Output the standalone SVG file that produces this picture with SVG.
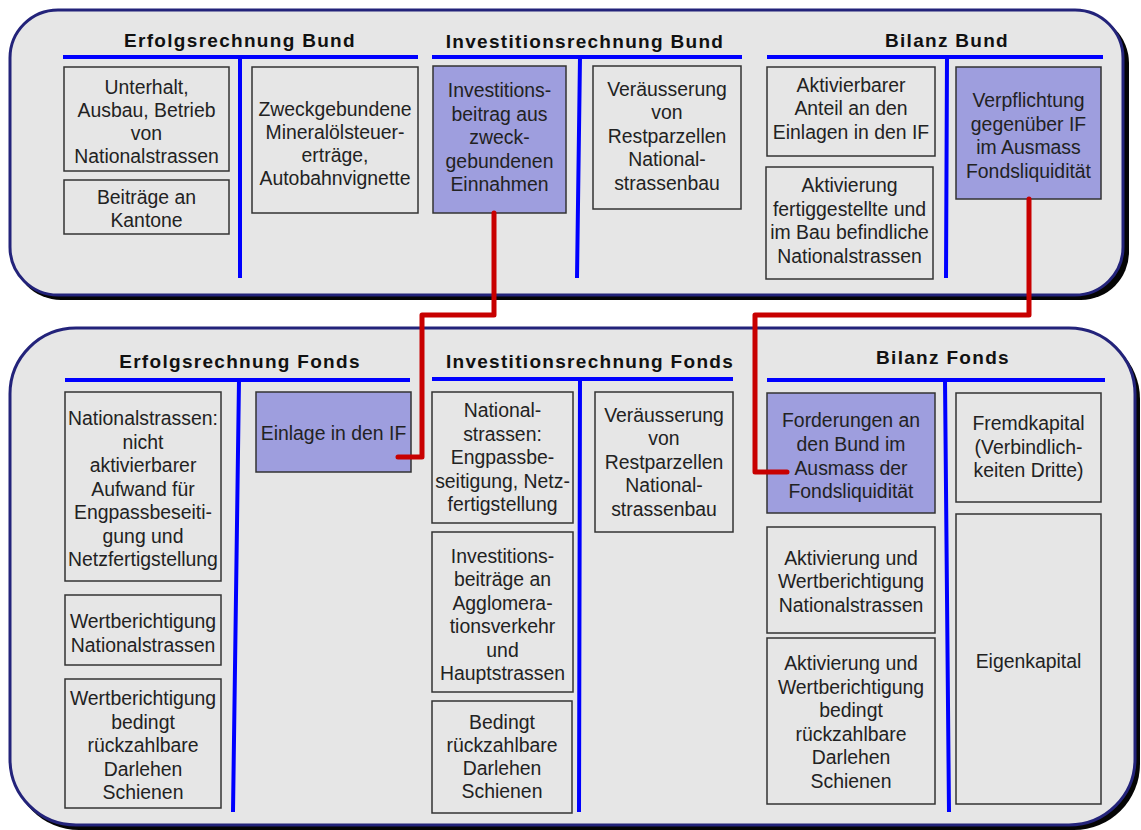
<svg xmlns="http://www.w3.org/2000/svg" width="1141" height="830" viewBox="0 0 1141 830">
<style>
.shadow{fill:#050505}
.panel{fill:#e6e6e6;stroke:#23237a;stroke-width:3}
.box{fill:none;stroke:#333;stroke-width:1.5}
.hl{fill:#9e9ede;stroke:#333;stroke-width:1.5}
.t{font-family:"Liberation Sans",Arial,sans-serif;font-size:19.4px;fill:#222;text-anchor:middle}
.h{font-family:"Liberation Sans",Arial,sans-serif;font-size:19px;font-weight:bold;fill:#111;text-anchor:middle;letter-spacing:1.3px}
.bl{stroke:#0000ff;stroke-width:4;fill:none}
.red{stroke:#c80000;stroke-width:5;fill:none;stroke-linecap:round;stroke-linejoin:round}
</style>
<rect id="shadow-bund" class="shadow" x="13" y="15" width="1116" height="285" rx="48"/>
<rect id="panel-bund" class="panel" x="10" y="10" width="1113" height="285" rx="48"/>
<rect id="shadow-fonds" class="shadow" x="13" y="333" width="1127" height="497" rx="66"/>
<rect id="panel-fonds" class="panel" x="10" y="328" width="1125" height="497" rx="66"/>

<g id="headers">
<text class="h" x="240" y="47">Erfolgsrechnung Bund</text>
<text class="h" x="585" y="48">Investitionsrechnung Bund</text>
<text class="h" x="947" y="47">Bilanz Bund</text>
<text class="h" x="240" y="368">Erfolgsrechnung Fonds</text>
<text class="h" x="590" y="368">Investitionsrechnung Fonds</text>
<text class="h" x="943" y="364">Bilanz Fonds</text>
</g>

<g id="tlines">
<path class="bl" d="M63,57 H418 M240,57 V278"/>
<path class="bl" d="M432,57 H742 M580,57 L577,278"/>
<path class="bl" d="M767,57 H1103 M947,57 L946,278"/>
<path class="bl" d="M65,380 H410 M239,380 L233,812"/>
<path class="bl" d="M432,379 H733 M580,379 L579,812"/>
<path class="bl" d="M767,380 H1105 M945,380 L949,812"/>
</g>

<g id="n-unterhalt"><rect class="box" x="64" y="67" width="165" height="104"/>
<text class="t" x="146.5" y="94">Unterhalt,</text><text class="t" x="146.5" y="117">Ausbau, Betrieb</text><text class="t" x="146.5" y="140">von</text><text class="t" x="146.5" y="163">Nationalstrassen</text></g>
<g id="n-beitraege"><rect class="box" x="64" y="180" width="165" height="54"/>
<text class="t" x="146.5" y="204">Beiträge an</text><text class="t" x="146.5" y="227">Kantone</text></g>
<g id="n-zweck"><rect class="box" x="252" y="67" width="166" height="146"/>
<text class="t" x="335" y="116">Zweckgebundene</text><text class="t" x="335" y="139">Mineralölsteuer-</text><text class="t" x="335" y="162">erträge,</text><text class="t" x="335" y="185">Autobahnvignette</text></g>
<g id="n-invbeitrag"><rect class="hl" x="433" y="66" width="133" height="147"/>
<text class="t" x="499.5" y="97">Investitions-</text><text class="t" x="499.5" y="121">beitrag aus</text><text class="t" x="499.5" y="144">zweck-</text><text class="t" x="499.5" y="168">gebundenen</text><text class="t" x="499.5" y="191">Einnahmen</text></g>
<g id="n-veraeusserung-bund"><rect class="box" x="593" y="66" width="148" height="143"/>
<text class="t" x="667" y="96">Veräusserung</text><text class="t" x="667" y="119">von</text><text class="t" x="667" y="143">Restparzellen</text><text class="t" x="667" y="166">National-</text><text class="t" x="667" y="190">strassenbau</text></g>
<g id="n-aktivierbar"><rect class="box" x="767" y="67" width="168" height="89"/>
<text class="t" x="851" y="92">Aktivierbarer</text><text class="t" x="851" y="115">Anteil an den</text><text class="t" x="851" y="139">Einlagen in den IF</text></g>
<g id="n-aktivierung-bund"><rect class="box" x="766" y="167" width="167" height="112"/>
<text class="t" x="849.5" y="192">Aktivierung</text><text class="t" x="849.5" y="216">fertiggestellte und</text><text class="t" x="849.5" y="239">im Bau befindliche</text><text class="t" x="849.5" y="263">Nationalstrassen</text></g>
<g id="n-verpflichtung"><rect class="hl" x="956" y="67" width="145" height="132"/>
<text class="t" x="1028.5" y="107">Verpflichtung</text><text class="t" x="1028.5" y="131">gegenüber IF</text><text class="t" x="1028.5" y="154">im Ausmass</text><text class="t" x="1028.5" y="178">Fondsliquidität</text></g>

<g id="n-ns-aufwand"><rect class="box" x="65" y="392" width="156" height="189"/>
<text class="t" x="143" y="425">Nationalstrassen:</text><text class="t" x="143" y="448.5">nicht</text><text class="t" x="143" y="472">aktivierbarer</text><text class="t" x="143" y="495.5">Aufwand für</text><text class="t" x="143" y="519">Engpassbeseiti-</text><text class="t" x="143" y="542.5">gung und</text><text class="t" x="143" y="566">Netzfertigstellung</text></g>
<g id="n-wb-ns"><rect class="box" x="65" y="595" width="156" height="70"/>
<text class="t" x="143" y="628">Wertberichtigung</text><text class="t" x="143" y="652">Nationalstrassen</text></g>
<g id="n-wb-darlehen"><rect class="box" x="65" y="679" width="156" height="129"/>
<text class="t" x="143" y="705">Wertberichtigung</text><text class="t" x="143" y="728.5">bedingt</text><text class="t" x="143" y="752">rückzahlbare</text><text class="t" x="143" y="775.5">Darlehen</text><text class="t" x="143" y="799">Schienen</text></g>
<g id="n-einlage"><rect class="hl" x="256" y="392" width="155" height="80"/>
<text class="t" x="333.5" y="440">Einlage in den IF</text></g>
<g id="n-ns-engpass"><rect class="box" x="432" y="392" width="141" height="131"/>
<text class="t" x="502.5" y="417">National-</text><text class="t" x="502.5" y="440.5">strassen:</text><text class="t" x="502.5" y="464">Engpassbe-</text><text class="t" x="502.5" y="487.5">seitigung, Netz-</text><text class="t" x="502.5" y="511">fertigstellung</text></g>
<g id="n-agglo"><rect class="box" x="432" y="532" width="141" height="160"/>
<text class="t" x="502.5" y="562.5">Investitions-</text><text class="t" x="502.5" y="586">beiträge an</text><text class="t" x="502.5" y="609.5">Agglomera-</text><text class="t" x="502.5" y="633">tionsverkehr</text><text class="t" x="502.5" y="656.5">und</text><text class="t" x="502.5" y="680">Hauptstrassen</text></g>
<g id="n-darlehen"><rect class="box" x="432" y="701" width="140" height="112"/>
<text class="t" x="502" y="729">Bedingt</text><text class="t" x="502" y="752">rückzahlbare</text><text class="t" x="502" y="775">Darlehen</text><text class="t" x="502" y="798">Schienen</text></g>
<g id="n-veraeusserung-fonds"><rect class="box" x="595" y="392" width="138" height="140"/>
<text class="t" x="664" y="421.5">Veräusserung</text><text class="t" x="664" y="445">von</text><text class="t" x="664" y="468.5">Restparzellen</text><text class="t" x="664" y="492">National-</text><text class="t" x="664" y="515.5">strassenbau</text></g>
<g id="n-forderungen"><rect class="hl" x="767" y="393" width="168" height="120"/>
<text class="t" x="851" y="427">Forderungen an</text><text class="t" x="851" y="451">den Bund im</text><text class="t" x="851" y="475">Ausmass der</text><text class="t" x="851" y="498">Fondsliquidität</text></g>
<g id="n-akt-ns"><rect class="box" x="767" y="527" width="168" height="106"/>
<text class="t" x="851" y="565">Aktivierung und</text><text class="t" x="851" y="588">Wertberichtigung</text><text class="t" x="851" y="612">Nationalstrassen</text></g>
<g id="n-akt-darlehen"><rect class="box" x="767" y="638" width="168" height="166"/>
<text class="t" x="851" y="670">Aktivierung und</text><text class="t" x="851" y="693.5">Wertberichtigung</text><text class="t" x="851" y="717">bedingt</text><text class="t" x="851" y="740.5">rückzahlbare</text><text class="t" x="851" y="764">Darlehen</text><text class="t" x="851" y="787.5">Schienen</text></g>
<g id="n-fremdkapital"><rect class="box" x="956" y="393" width="145" height="109"/>
<text class="t" x="1028.5" y="430">Fremdkapital</text><text class="t" x="1028.5" y="453.5">(Verbindlich-</text><text class="t" x="1028.5" y="477">keiten Dritte)</text></g>
<g id="n-eigenkapital"><rect class="box" x="956" y="514" width="145" height="290"/>
<text class="t" x="1028.5" y="668">Eigenkapital</text></g>

<g id="connectors">
<path class="red" d="M494,213 V315 H422 V457 H398"/>
<path class="red" d="M1029,199 V315 H755 V472 H787"/>
</g>
</svg>
